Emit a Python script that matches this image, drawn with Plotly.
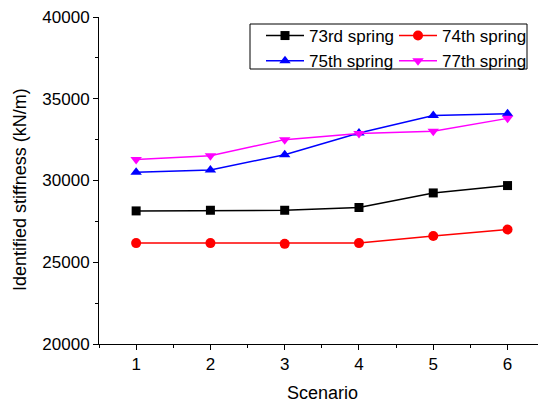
import plotly.graph_objects as go

scenarios = [1, 2, 3, 4, 5, 6]
s73 = [28140, 28180, 28180, 28350, 29240, 29690]
s74 = [26170, 26170, 26125, 26170, 26610, 27000]
s75 = [30500, 30640, 31580, 32900, 33970, 34090]
s77 = [31280, 31520, 32500, 32870, 33010, 33800]

names = ["73rd spring", "74th spring", "75th spring", "77th spring"]
colors = ["#000000", "#FF0000", "#0000FF", "#FF00FF"]
symbols = ["square", "circle", "triangle-up", "triangle-down"]
legends = ["legend", "legend2", "legend", "legend2"]
series = [s73, s74, s75, s77]

L, R, T, B, W, H = 99, 0, 17, 61, 538, 405
pw, ph = W - L - R, H - T - B


def px(xp):
    return (xp - L) / pw


def py(yp):
    return (H - B - yp) / ph


fig = go.Figure()
for name, vals, c, sym, lg in zip(names, series, colors, symbols, legends):
    fig.add_trace(go.Scatter(
        x=scenarios, y=vals, name=name, mode="lines+markers",
        line=dict(color=c, width=1.5),
        marker=dict(symbol=sym, size=9 if sym == "square" else 10, color=c),
        legend=lg,
    ))

font = "Liberation Sans, Arial, sans-serif"
leg_common = dict(
    orientation="v", xanchor="left", yanchor="top", y=py(18),
    bgcolor="rgba(0,0,0,0)", borderwidth=0, font=dict(size=17),
    itemwidth=38, tracegroupgap=0,
)
fig.update_layout(
    width=W, height=H,
    margin=dict(l=L, r=R, t=T, b=B),
    plot_bgcolor="white", paper_bgcolor="white",
    font=dict(family=font, size=17, color="black"),
    showlegend=True,
    legend=dict(x=px(261), **leg_common),
    legend2=dict(x=px(394), **leg_common),
    xaxis=dict(
        range=[0.5, 6.41], tickvals=scenarios, showgrid=False, zeroline=False,
        showline=True, linecolor="black", linewidth=1,
        ticks="outside", ticklen=5, tickcolor="black",
        minor=dict(dtick=0.5, tick0=0.5, ticks="outside", ticklen=3, tickcolor="black"),
        tickfont=dict(size=17),
    ),
    xaxis2=dict(
        overlaying="x", side="top", range=[0.5, 6.41], tickvals=scenarios,
        showgrid=False, zeroline=False, showline=True, linecolor="black", linewidth=1,
        ticks="inside", ticklen=3, tickcolor="black", showticklabels=False,
        minor=dict(dtick=0.5, tick0=0.5, ticks="inside", ticklen=2, tickcolor="black"),
        anchor="y",
    ),
    yaxis=dict(
        range=[20000, 40000], dtick=5000, tick0=20000, tickformat="d",
        showgrid=False, zeroline=False,
        showline=True, linecolor="black", linewidth=1,
        ticks="outside", ticklen=5, tickcolor="black",
        minor=dict(dtick=2500, ticks="outside", ticklen=3, tickcolor="black"),
        tickfont=dict(size=17),
    ),
    shapes=[
        dict(type="rect", xref="paper", yref="paper",
             x0=px(250), x1=px(527), y0=py(69), y1=py(24),
             line=dict(color="black", width=1), fillcolor="white", layer="above"),
    ],
    annotations=[
        dict(text="Scenario", xref="paper", yref="paper",
             x=px(322), y=py(393), xanchor="center", yanchor="middle",
             showarrow=False, font=dict(size=18)),
        dict(text="Identified stiffness (kN/m)", xref="paper", yref="paper",
             x=px(20), y=py(190), xanchor="center", yanchor="middle",
             textangle=-90, showarrow=False, font=dict(size=18)),
    ],
)
fig.write_html("out.html")
